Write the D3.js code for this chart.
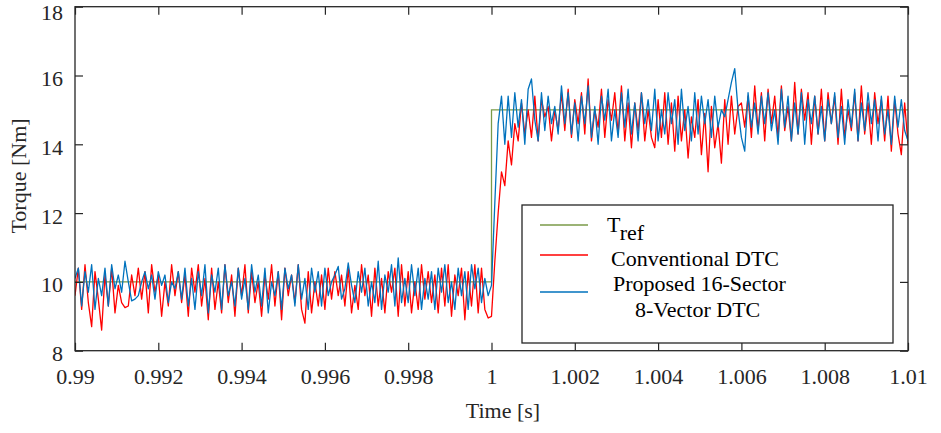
<!DOCTYPE html>
<html>
<head>
<meta charset="utf-8">
<script src="https://cdn.jsdelivr.net/npm/d3@7/dist/d3.min.js"></script>
<style>
  body { margin: 0; background: #fff; }
  svg { display: block; }
  svg text { font-family: 'Liberation Serif', 'Times New Roman', 'DejaVu Serif', serif; }
</style>
</head>
<body>
<div id="chart"></div>
<script>
// sample time of the measured signals (s), starting at 0.99 s
var t0 = 0.99;
var dt = 0.00008;

var trefTime = [0.99, 1.0, 1.0, 1.01];
var trefValue = [10, 10, 15, 15];

var conventional = [
  9.6, 10.4, 9.2, 10.5, 9.4, 8.7, 10.3, 9.5, 8.6, 10.2, 9.3, 10.4, 9.1, 9.9, 9.4, 9.25, 9.3, 10.2, 9.6, 10.4, 9.5, 10.3, 9.1, 10.5, 9.7,
  10.2, 9.0, 10.0, 9.3, 10.5, 9.6, 10.3, 9.4, 10.2, 9.0, 10.4, 9.7, 10.5, 9.3, 10.1, 8.9, 10.4, 9.2, 10.0, 9.1, 10.5, 9.4, 10.2, 9.0, 10.4,
  9.6, 10.5, 9.1, 10.3, 9.4, 10.0, 9.0, 10.2, 9.5, 10.5, 9.3, 10.3, 8.9, 10.4, 9.6, 10.2, 9.4, 10.5, 9.2, 8.8, 10.3, 9.1, 10.0, 9.3, 10.2,
  9.2, 10.4, 9.5, 10.3, 9.6, 10.2, 9.3, 10.4, 9.1, 9.9, 9.2, 10.5, 9.6, 10.2, 9.0, 10.4, 9.3, 10.1, 9.1, 10.3, 9.7, 10.4, 9.0, 10.5, 9.3,
  10.3, 9.1, 10.0, 9.2, 10.5, 9.5, 10.3, 9.4, 10.2, 9.1, 10.4, 9.3, 10.5, 9.0, 10.2, 9.6, 10.4, 8.9, 10.3, 9.3, 10.5, 9.1, 10.4, 9.2, 8.95,
  9.0, 10.6, 12.0, 13.2, 12.8, 14.1, 13.4, 14.6, 14.1, 15.2, 14.3, 15.0, 14.2, 15.4, 14.1, 15.3, 14.8, 15.1, 14.1, 15.0, 14.4, 15.5, 14.4, 15.6, 14.2,
  15.3, 14.6, 15.5, 14.3, 15.9, 14.1, 15.0, 14.5, 15.6, 14.2, 15.3, 14.7, 15.5, 14.3, 15.7, 14.1, 15.2, 13.9, 15.2, 14.4, 15.5, 14.1, 15.0, 14.2, 13.9,
  15.3, 14.2, 15.5, 14.0, 15.2, 13.8, 15.4, 14.1, 15.0, 13.6, 14.8, 14.2, 15.3, 13.7, 14.9, 13.2, 15.1, 13.9, 14.6, 13.45, 15.3, 14.0, 15.4, 14.3, 15.1,
  15.2, 14.5, 15.4, 14.2, 15.7, 14.4, 15.5, 14.1, 15.6, 14.6, 15.4, 14.2, 15.7, 14.4, 15.1, 14.1, 15.8, 14.3, 15.6, 14.7, 15.5, 14.0, 15.4, 14.3, 15.6,
  14.1, 15.5, 14.6, 15.4, 14.0, 15.6, 14.2, 15.0, 14.4, 15.5, 14.1, 15.7, 14.3, 15.2, 14.0, 15.5, 14.6, 15.3, 14.1, 15.4, 13.8, 15.3, 14.3, 13.7, 15.2, 14.0
];

var proposed = [
  10.1, 10.4, 9.3, 10.3, 9.7, 10.5, 9.2, 10.1, 9.6, 10.4, 9.3, 10.5, 9.8, 10.2, 9.7, 10.6, 10.0, 9.45, 9.5, 9.6, 10.0, 10.3, 9.8, 10.2, 9.5,
  10.3, 9.9, 10.2, 9.4, 10.0, 9.8, 10.3, 9.5, 10.4, 9.3, 10.1, 9.2, 10.3, 9.6, 10.5, 9.1, 10.2, 9.7, 10.4, 9.2, 10.5, 9.6, 10.0, 9.3, 10.4,
  9.5, 10.1, 9.2, 10.5, 9.7, 10.2, 9.3, 10.4, 9.1, 10.0, 9.6, 10.3, 9.2, 10.4, 9.8, 10.2, 9.3, 10.5, 9.5, 10.1, 9.2, 10.4, 9.7, 10.3, 9.3,
  10.4, 9.6, 10.0, 10.2, 10.45, 9.5, 9.8, 10.55, 9.9, 9.4, 10.3, 9.7, 10.4, 9.3, 10.0, 9.4, 10.6, 9.2, 10.2, 9.7, 10.5, 9.3, 10.7, 9.4, 10.1,
  9.4, 10.5, 9.6, 10.4, 9.2, 10.1, 9.5, 10.3, 9.2, 10.4, 9.7, 10.5, 9.4, 10.0, 9.2, 10.4, 9.6, 10.3, 9.2, 10.5, 9.8, 10.4, 9.4, 10.1, 9.6,
  9.9, 12.3, 14.6, 15.4, 14.0, 15.4, 14.2, 15.5, 14.5, 15.3, 14.0, 15.6, 15.9, 14.7, 14.1, 15.5, 14.4, 15.4, 14.6, 15.1, 14.3, 15.7, 14.6, 15.5, 14.3,
  15.2, 14.1, 15.4, 14.6, 15.7, 14.2, 15.1, 14.0, 15.4, 14.7, 15.6, 14.1, 15.0, 14.2, 15.5, 14.5, 15.6, 14.3, 15.2, 14.1, 15.5, 14.6, 15.3, 14.4, 15.6,
  14.1, 15.0, 14.3, 15.5, 14.6, 15.3, 14.0, 15.6, 14.4, 15.1, 14.1, 15.5, 14.3, 15.4, 14.6, 15.3, 14.2, 15.4, 14.5, 15.0, 14.8, 15.3, 15.8, 16.2, 15.0,
  14.2, 13.8, 15.5, 14.5, 15.2, 14.3, 15.4, 14.6, 15.5, 14.4, 15.0, 14.0, 15.6, 14.5, 15.4, 14.1, 15.2, 14.3, 15.5, 14.0, 15.3, 14.6, 15.4, 14.3, 15.1,
  14.1, 15.3, 14.6, 15.5, 14.2, 15.1, 14.0, 15.3, 14.5, 15.6, 14.1, 15.2, 14.4, 15.5, 14.6, 15.3, 14.1, 15.4, 14.3, 15.0, 14.0, 15.4, 14.5, 15.3, 14.4, 14.1
];

var xTicks = [0.99, 0.992, 0.994, 0.996, 0.998, 1, 1.002, 1.004, 1.006, 1.008, 1.01];
var yTicks = [8, 10, 12, 14, 16, 18];

var legendLabels = ['Conventional DTC', 'Proposed 16-Sector', '8-Vector DTC'];

var colors = { tref: '#7a9a48', conv: '#ff0000', prop: '#0072bd', axis: '#262626' };

var margin = {top: 6.7, right: 33, bottom: 82.3, left: 75};
var W = 941, H = 433;
var width = W - margin.left - margin.right;
var height = H - margin.top - margin.bottom;
var tickLen = 8;

var xScale = d3.scaleLinear().domain([0.99, 1.01]).range([0, width]);
var yScale = d3.scaleLinear().domain([8, 18]).range([height, 0]);

var svg = d3.select('#chart').append('svg')
    .attr('width', W)
    .attr('height', H)
  .append('g')
    .attr('transform', 'translate(' + margin.left + ',' + margin.top + ')');

svg.append('clipPath')
    .attr('id', 'clip')
  .append('rect')
    .attr('width', width)
    .attr('height', height);

function toPoints(values) {
  return values.map(function(v, i) { return [t0 + i * dt, v]; });
}

var line = d3.line()
  .x(function(d) { return xScale(d[0]); })
  .y(function(d) { return yScale(d[1]); });

var plot = svg.append('g').attr('clip-path', 'url(#clip)');

plot.append('path')
    .datum(trefTime.map(function(t, i) { return [t, trefValue[i]]; }))
    .attr('fill', 'none')
    .attr('stroke', colors.tref)
    .attr('stroke-width', 1.3)
    .attr('d', line);

plot.append('path')
    .datum(toPoints(conventional))
    .attr('fill', 'none')
    .attr('stroke', colors.conv)
    .attr('stroke-width', 1.3)
    .attr('stroke-linejoin', 'round')
    .attr('d', line);

plot.append('path')
    .datum(toPoints(proposed))
    .attr('fill', 'none')
    .attr('stroke', colors.prop)
    .attr('stroke-width', 1.3)
    .attr('stroke-linejoin', 'round')
    .attr('d', line);

// axes, MATLAB style: ticks pointing in, box on all sides
var xAxis = d3.axisBottom(xScale).tickValues(xTicks).tickSize(-tickLen).tickPadding(tickLen + 25)
  .tickFormat(function(d) { return d3.format('')(+d.toFixed(3)); });
var yAxis = d3.axisLeft(yScale).tickValues(yTicks).tickSize(-tickLen).tickPadding(tickLen + 4);

svg.append('g')
    .attr('class', 'axis axis--x')
    .attr('transform', 'translate(0,' + height + ')')
    .call(xAxis);

svg.append('g')
    .attr('class', 'axis axis--y')
    .call(yAxis);

svg.append('g')
    .attr('class', 'axis axis--top')
    .call(d3.axisTop(xScale).tickValues(xTicks).tickSize(-tickLen).tickFormat(''));

svg.append('g')
    .attr('class', 'axis axis--right')
    .attr('transform', 'translate(' + width + ',0)')
    .call(d3.axisRight(yScale).tickValues(yTicks).tickSize(-tickLen).tickFormat(''));

svg.selectAll('.axis .domain').remove();
svg.selectAll('.axis line').attr('stroke', colors.axis).attr('stroke-width', 1.2);
svg.selectAll('.axis text')
    .attr('fill', colors.axis)
    .attr('font-size', 22);
svg.selectAll('.axis--x text').attr('dy', 0);
// top label sits a bit lower so it stays inside the page
svg.selectAll('.axis--y text').attr('dy', function(d) { return d === 18 ? 13 : 10; });

svg.append('rect')
    .attr('width', width)
    .attr('height', height)
    .attr('fill', 'none')
    .attr('stroke', colors.axis)
    .attr('stroke-width', 1.3);

svg.append('text')
    .attr('x', 428)
    .attr('y', 418 - margin.top)
    .attr('text-anchor', 'middle')
    .attr('font-size', 22)
    .attr('fill', colors.axis)
    .text('Time [s]');

svg.append('text')
    .attr('transform', 'translate(' + (26 - margin.left) + ',' + (176 - margin.top) + ') rotate(-90)')
    .attr('text-anchor', 'middle')
    .attr('font-size', 22)
    .attr('fill', colors.axis)
    .text('Torque [Nm]');

// legend, positioned by hand
var legend = svg.append('g')
    .attr('transform', 'translate(' + (522 - margin.left) + ',' + (205 - margin.top) + ')')
    .attr('font-size', 22)
    .attr('fill', '#000');

legend.append('rect')
    .attr('width', 371)
    .attr('height', 138)
    .attr('fill', '#fff')
    .attr('stroke', colors.axis)
    .attr('stroke-width', 1.3);

var legendLines = [
  {y: 20, color: colors.tref},
  {y: 50, color: colors.conv},
  {y: 87, color: colors.prop}
];

legend.selectAll('.legend-line')
    .data(legendLines)
  .enter().append('line')
    .attr('class', 'legend-line')
    .attr('x1', 18)
    .attr('x2', 66)
    .attr('y1', function(d) { return d.y; })
    .attr('y2', function(d) { return d.y; })
    .attr('stroke', function(d) { return d.color; })
    .attr('stroke-width', 1.3);

var tref = legend.append('text')
    .attr('x', 85)
    .attr('y', 27);
tref.append('tspan').text('T');
tref.append('tspan').attr('dy', 8).text('ref');

legend.append('text').attr('x', 89).attr('y', 61).text(legendLabels[0]);
legend.append('text').attr('x', 91).attr('y', 86).text(legendLabels[1]);
legend.append('text').attr('x', 113).attr('y', 112).text(legendLabels[2]);
</script>
</body>
</html>
